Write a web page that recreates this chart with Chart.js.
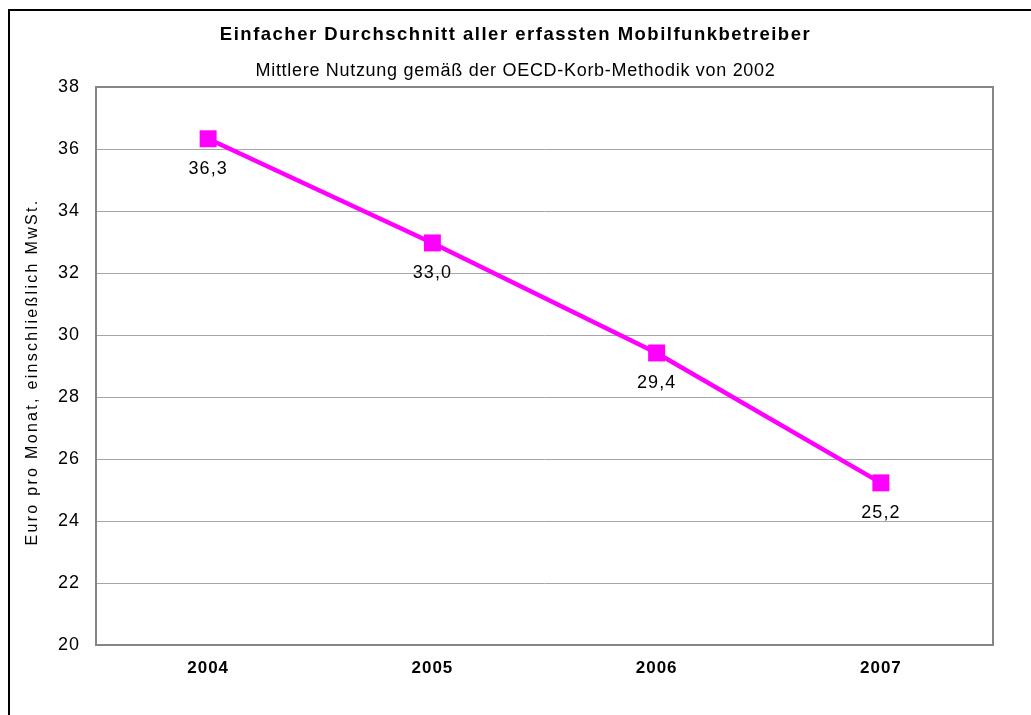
<!DOCTYPE html>
<html lang="de">
<head>
    <meta charset="UTF-8">
    <title>Einfacher Durchschnitt aller erfassten Mobilfunkbetreiber</title>
    <script src="https://cdn.jsdelivr.net/npm/chart.js"></script>
    <style>
        html, body {
            margin: 0;
            padding: 0;
            background: #ffffff;
            overflow: hidden;
        }
        .frame {
            position: absolute;
            left: 8px;
            top: 9px;
            width: 1100px;
            height: 800px;
            border-left: 2px solid #000;
            border-top: 2px solid #000;
        }
        .graph-container {
            position: absolute;
            left: 0;
            top: 0;
            width: 1031px;
            height: 715px;
        }
    </style>
</head>
<body>
    <div class="frame"></div>
    <div class="graph-container">
        <canvas id="priceChart"></canvas>
    </div>

    <script>
        // chart data
        const years = ["2004", "2005", "2006", "2007"];
        const avgPrice = [36.33, 32.97, 29.42, 25.23];
        const yTicks = [20, 22, 24, 26, 28, 30, 32, 34, 36, 38];

        const chartTitle = "Einfacher Durchschnitt aller erfassten Mobilfunkbetreiber";
        const chartSubtitle = "Mittlere Nutzung gemäß der OECD-Korb-Methodik von 2002";
        const yAxisTitle = "Euro pro Monat, einschließlich MwSt.";

        const FONT = "'Liberation Sans', Arial, sans-serif";

        // the original has wide, Excel-like letter spacing
        const spacing = {
            id: "spacing",
            beforeDraw(chart) {
                chart.ctx.letterSpacing = "1px";
            }
        };

        // title, subtitle and y axis title (spaced out text)
        const titles = {
            id: "titles",
            afterDraw(chart) {
                const ctx = chart.ctx;
                const a = chart.chartArea;
                ctx.save();
                ctx.fillStyle = "#000";
                ctx.textAlign = "center";
                ctx.textBaseline = "alphabetic";

                ctx.letterSpacing = "1.5px";
                ctx.font = "bold 18.5px " + FONT;
                ctx.fillText(chartTitle, chart.width / 2, 40);

                ctx.letterSpacing = "0.7px";
                ctx.font = "18px " + FONT;
                ctx.fillText(chartSubtitle, chart.width / 2, 76);

                ctx.letterSpacing = "2.3px";
                ctx.font = "16px " + FONT;
                ctx.translate(37, (a.top + a.bottom) / 2 + 6);
                ctx.rotate(-Math.PI / 2);
                ctx.fillText(yAxisTitle, 0, 0);
                ctx.restore();
            }
        };

        // labels under every point, e.g. "36,3"
        const pointLabels = {
            id: "pointLabels",
            afterDatasetsDraw(chart) {
                const ctx = chart.ctx;
                const meta = chart.getDatasetMeta(0);
                ctx.save();
                ctx.letterSpacing = "1px";
                ctx.font = "18px " + FONT;
                ctx.fillStyle = "#000";
                ctx.textAlign = "center";
                ctx.textBaseline = "middle";
                meta.data.forEach((pt, i) => {
                    const txt = avgPrice[i].toFixed(1).replace(".", ",");
                    ctx.fillText(txt, pt.x, pt.y + 30);
                });
                ctx.restore();
            }
        };

        // grey box round the plot area
        const plotBorder = {
            id: "plotBorder",
            beforeDatasetsDraw(chart) {
                const a = chart.chartArea;
                const ctx = chart.ctx;
                ctx.save();
                ctx.strokeStyle = "#868686";
                ctx.lineWidth = 2;
                ctx.strokeRect(a.left, a.top, a.right - a.left, a.bottom - a.top);
                ctx.restore();
            }
        };

        let ctx = document.getElementById("priceChart").getContext("2d");
        let priceChart = new Chart(ctx, {
            type: "line",
            data: {
                labels: years,
                datasets: [{
                    data: avgPrice,
                    borderColor: "#ff00ff",
                    backgroundColor: "#ff00ff",
                    borderWidth: 4.5,
                    fill: false,
                    tension: 0,
                    pointStyle: "rect",
                    pointRadius: 12,
                    pointHoverRadius: 12,
                    pointBorderWidth: 0,
                    pointBackgroundColor: "#ff00ff"
                }]
            },
            options: {
                responsive: true,
                maintainAspectRatio: false,
                animation: false,
                layout: {
                    padding: { left: 0, right: 38, top: 87, bottom: 0 }
                },
                plugins: {
                    legend: { display: false },
                    tooltip: { enabled: false },
                    title: { display: false }
                },
                scales: {
                    x: {
                        offset: true,
                        afterFit(scale) {
                            scale.height = 70;
                        },
                        grid: { display: false, drawTicks: false },
                        border: { display: false },
                        ticks: {
                            color: "#000",
                            padding: 13,
                            font: { family: FONT, size: 17, weight: "bold" }
                        }
                    },
                    y: {
                        min: 20,
                        max: 38,
                        afterBuildTicks(scale) {
                            scale.ticks = yTicks.map(v => ({ value: v }));
                        },
                        afterFit(scale) {
                            scale.width = 96;
                        },
                        grid: { color: "#a6a6a6", lineWidth: 1, drawTicks: false },
                        border: { display: false },
                        ticks: {
                            color: "#000",
                            padding: 16,
                            font: { family: FONT, size: 18 }
                        }
                    }
                }
            },
            plugins: [spacing, plotBorder, pointLabels, titles]
        });
    </script>
</body>
</html>
